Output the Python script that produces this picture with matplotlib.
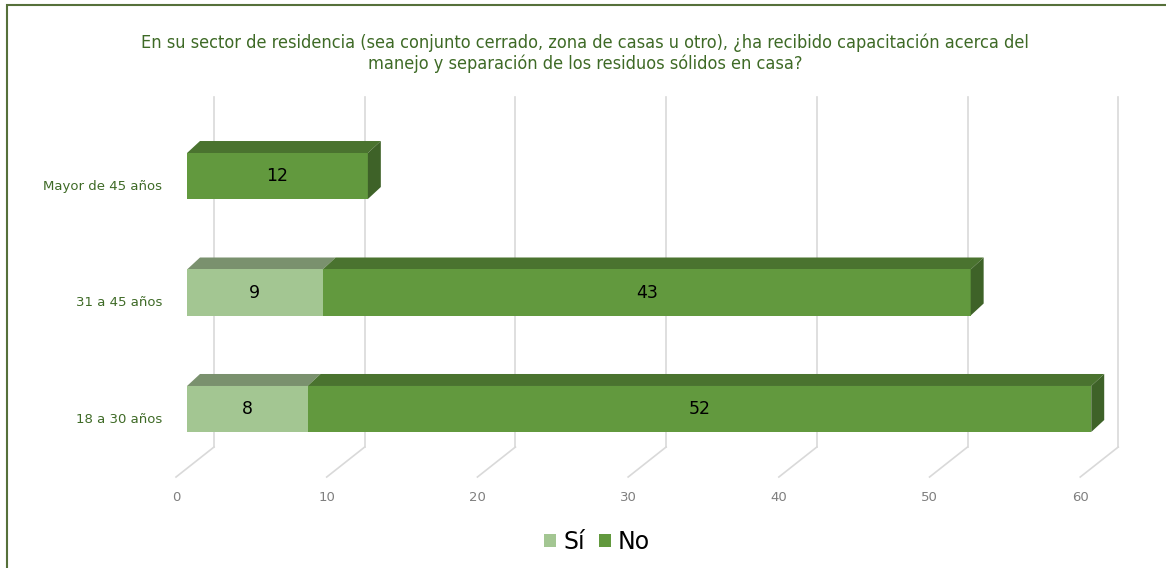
import matplotlib
matplotlib.use("Agg")
import matplotlib.pyplot as plt
from matplotlib.patches import Polygon, Rectangle, Patch

# data
categories = ["18 a 30 años", "31 a 45 años", "Mayor de 45 años"]
si_vals = [8, 9, 0]
no_vals = [52, 43, 12]
xticks = [0, 10, 20, 30, 40, 50, 60]
title = ("En su sector de residencia (sea conjunto cerrado, zona de casas u otro), ¿ha recibido capacitación acerca del\n"
         "manejo y separación de los residuos sólidos en casa?")

# colours
si_front, si_top = "#A3C692", "#7A916E"
no_front, no_top, no_side = "#62993E", "#4A732F", "#3E6228"
grid_c = "#D9D9D9"
txt_green = "#3E6A26"

fig = plt.figure(figsize=(11.66, 5.68), dpi=100)
ax = fig.add_axes([0, 0, 1, 1])
ax.set_xlim(-11.68, 65.69)
ax.set_ylim(-1.365, 3.511)
ax.axis("off")

# 3d geometry (in data units)
DX, DY = 2.52, 0.2575        # floor depth
floor_y = -0.584
wall_top = 2.678
off0 = 0.73                  # bar front offset
bdx, bdy = 0.86, 0.103       # bar depth
h = 0.395

# floor diagonals + back wall gridlines
for v in xticks:
    ax.plot([v, v + DX], [floor_y, floor_y + DY], color=grid_c, lw=1.2, zorder=1)
    ax.plot([v + DX, v + DX], [floor_y + DY, wall_top], color=grid_c, lw=1.2, zorder=1)
    ax.text(v, -0.764, str(v), ha="center", va="center", fontsize=9.5,
            color="#7F7F7F", family="Liberation Sans Narrow")


def draw_seg(x0, x1, y, front, top, side=None, label=None):
    yb, yt = y - h / 2, y + h / 2
    ax.add_patch(Polygon([(x0 + off0, yt), (x1 + off0, yt), (x1 + off0 + bdx, yt + bdy),
                          (x0 + off0 + bdx, yt + bdy)], closed=True, fc=top, ec="none", zorder=3))
    ax.add_patch(Rectangle((x0 + off0, yb), x1 - x0, h, fc=front, ec="none", zorder=3))
    if side is not None:
        ax.add_patch(Polygon([(x1 + off0, yb), (x1 + off0, yt), (x1 + off0 + bdx, yt + bdy),
                              (x1 + off0 + bdx, yb + bdy)], closed=True, fc=side, ec="none", zorder=3))
    if label is not None:
        ax.text((x0 + x1) / 2 + off0, y, label, ha="center", va="center", fontsize=12.5,
                color="black", family="Liberation Sans Narrow", zorder=4)


for i, cat in enumerate(categories):
    s, n = si_vals[i], no_vals[i]
    if s > 0:
        draw_seg(0, s, i, si_front, si_top, label=str(s))
    draw_seg(s, s + n, i, no_front, no_top, side=no_side, label=str(n))
    ax.text(-0.93, i - 0.086, cat, ha="right", va="center", fontsize=9.5,
            color=txt_green, family="Liberation Sans Narrow")

fig.text(585 / 1166, 1 - 53 / 568, title, ha="center", va="center", fontsize=13,
         color=txt_green, family="DejaVu Sans", linespacing=1.2, stretch="condensed")

handles = [Patch(fc=si_front, ec="none", label="Sí"), Patch(fc=no_front, ec="none", label="No")]
fig.legend(handles=handles, loc="center", bbox_to_anchor=(597 / 1166, 1 - 542 / 568), ncol=2,
           frameon=False, handlelength=0.5, handleheight=0.5, handletextpad=0.3, columnspacing=0.6,
           prop={"family": "Liberation Sans Narrow", "size": 17})

# outer frame (only top and left edge visible)
fig.add_artist(Rectangle((7 / 1166, -0.1), 1.2, 1.1 - 5 / 568, transform=fig.transFigure,
                         fill=False, ec="#56703A", lw=1.5))

fig.savefig("out.png", dpi=100)
